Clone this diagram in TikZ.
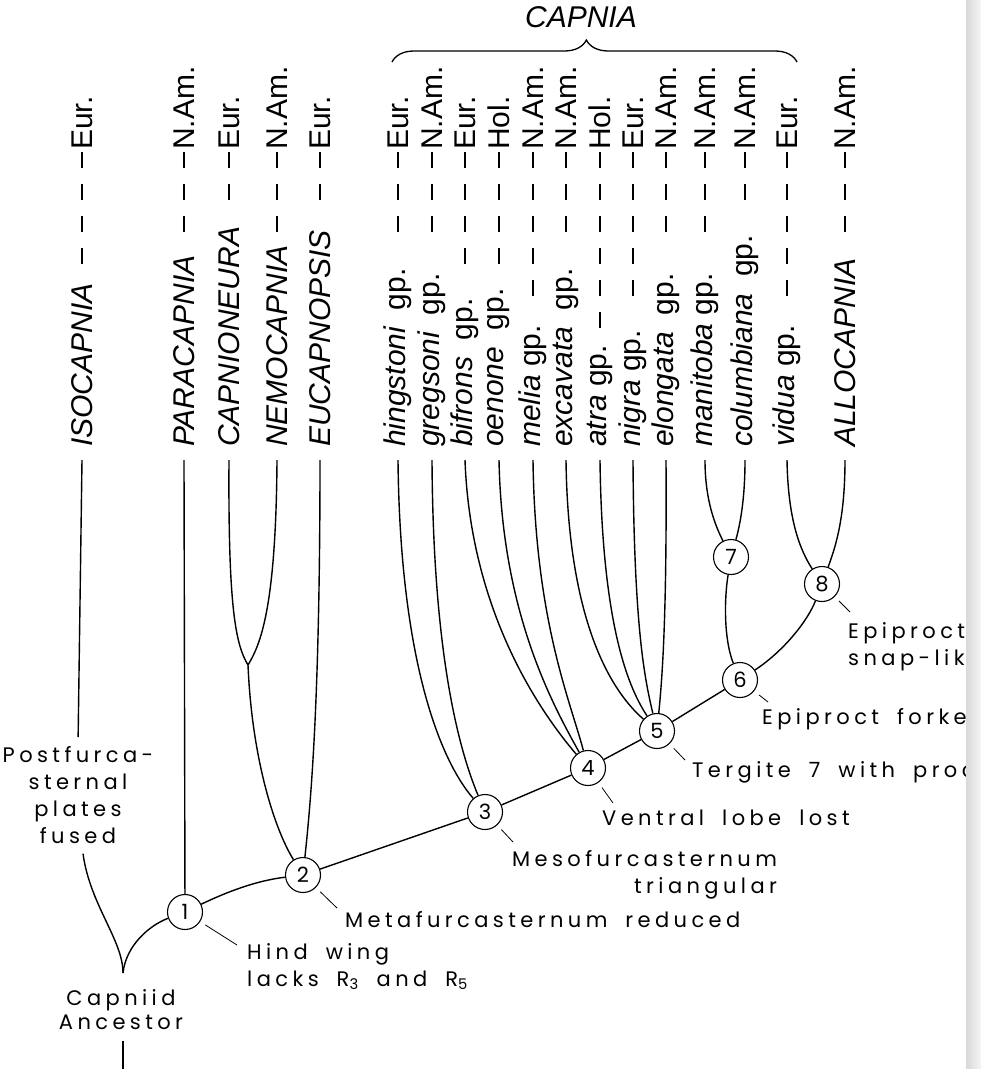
\documentclass[tikz,border=0pt]{standalone}
\usepackage{fontspec}
\setmainfont{Liberation Sans}
\newfontfamily\notefont[LetterSpace=21,WordSpace=1.8]{Poppins}
\usetikzlibrary{calc,decorations.pathreplacing}

\begin{document}
\begin{tikzpicture}[x=1pt,y=-1pt,
  taxon/.style={rotate=90,anchor=west,inner sep=0pt,font=\fontsize{30}{30}\selectfont\itshape},
  area/.style={rotate=90,anchor=west,inner sep=0pt,font=\fontsize{30}{30}\selectfont},
  gap/.style={line width=1.3pt,dash pattern=on 16pt off 16pt},
  br/.style={line width=1.4pt},
  knot/.style={draw,circle,line width=1.1pt,minimum size=35pt,inner sep=0pt,fill=white,font=\fontsize{21}{21}\notefont},
  note/.style={inner sep=0pt,align=left,font={\fontsize{21}{27}\notefont}},
  lead/.style={line width=.8pt,shorten <=6pt}]
\useasboundingbox (0,0) rectangle (981,1069);

% taxa, areas and the dashed ties between them (whole dashes only)
\foreach \x/\id/\nm/\ar in {82/iso/ISOCAPNIA/Eur., 184/para/PARACAPNIA/N.Am., 229/capn/CAPNIONEURA/Eur.,
  277/nemo/NEMOCAPNIA/N.Am., 320/euca/EUCAPNOPSIS/Eur.,
  398/hing/{hingstoni\upshape\ \ gp.}/Eur., 432/greg/{gregsoni\upshape\ \ gp.}/N.Am.,
  465/bifr/{bifrons\upshape\ \ gp.}/Eur., 499/oeno/{oenone\upshape\ \ gp.}/Hol.,
  533/meli/{melia\upshape\ gp.}/N.Am., 566/exca/{excavata\upshape\ \ gp.}/N.Am.,
  600/atra/{atra\upshape\ gp.}/Hol., 633/nigr/{nigra\upshape\ gp.}/Eur.,
  666/elon/{elongata\upshape\ \ gp.}/N.Am., 705/mani/{manitoba\upshape\ gp.}/N.Am.,
  745/colu/{columbiana\upshape\ \ gp.}/N.Am., 787/vidu/{vidua\upshape\ gp.}/Eur., 845/allo/ALLOCAPNIA/N.Am.}{
  \coordinate (\id) at (\x,460);
  \node[taxon] (\id-n) at (\x,447) {\nm};
  \node[area] (\id-a) at (\x,150) {\ar};
  \draw[gap] let \p1=(\id-a.west), \p2=(\id-n.east), \n1={int((abs(\y1-\y2)-28)/32)*32+16} in
    ([yshift=-2pt]\p1) -- ++(0pt,-\n1);
}

\coordinate (bl) at (392,62);
\coordinate (br) at (797,62);
\draw[line width=1.3pt,decorate,decoration={brace,amplitude=22pt,aspect=.48}] (bl) -- (br);
\node[inner sep=0pt,font=\fontsize{30}{30}\selectfont\itshape] (capnia) at (581,17) {CAPNIA};

% tree
\coordinate (root) at (123,973);
\coordinate (jn) at (248,665);
\node[knot] (n1) at (185,912) {1};
\node[knot] (n2) at (303,875) {2};
\node[knot] (n3) at (485,812) {3};
\node[knot] (n4) at (588,768) {4};
\node[knot] (n5) at (657,731) {5};
\node[knot] (n6) at (740,680) {6};
\node[knot] (n7) at (731,557) {7};
\node[knot] (n8) at (822,584) {8};

\node[note,align=center,anchor=north] (pf) at (78,746) {Postfurca-\\sternal\\plates\\fused};
\node[note,align=center,anchor=north,font={\fontsize{21}{24}\notefont}] (anc) at (121,989) {Capniid\\Ancestor};
\coordinate (foot) at (123,1069);

\draw[br,shorten >=9pt] (iso) -- (pf.north);
\draw[br] ([xshift=5pt,yshift=-10pt]pf.south) .. controls (90,905) and (123,940) .. (root);
\draw[br] (root) .. controls (126,945) and (150,925) .. (n1);
\draw[br,shorten <=11pt] ([xshift=2pt]anc.south) -- (foot);
\draw[br] (para) -- (n1);
\draw[br] (n1) .. controls (235,888) and (262,880) .. (n2);
\draw[br] (n2) -- (n3) -- (n4) -- (n5) -- (n6);
\draw[br] (n6) .. controls (785,650) and (808,620) .. (n8);
\draw[br] (n7) .. controls (724,600) and (724,640) .. (n6);
\draw[br] (capn) .. controls (228,610) and (236,645) .. (jn);
\draw[br] (nemo) .. controls (276,610) and (260,645) .. (jn);
\draw[br] (jn) .. controls (252,760) and (275,830) .. (n2);
\draw[br] (euca) .. controls (320,700) and (311,800) .. (n2);
\draw[br] (hing) .. controls (400,660) and (440,760) .. (n3);
\draw[br] (greg) .. controls (433,640) and (455,740) .. (n3);
\draw[br] (bifr) .. controls (470,600) and (530,700) .. (n4);
\draw[br] (oeno) .. controls (502,610) and (550,700) .. (n4);
\draw[br] (meli) .. controls (535,620) and (570,700) .. (n4);
\draw[br] (exca) .. controls (568,620) and (610,690) .. (n5);
\draw[br] (atra) .. controls (602,630) and (630,690) .. (n5);
\draw[br] (nigr) .. controls (634,630) and (645,680) .. (n5);
\draw[br] (elon) .. controls (667,620) and (662,680) .. (n5);
\draw[br] (mani) .. controls (705,500) and (715,525) .. (n7);
\draw[br] (colu) .. controls (745,500) and (740,525) .. (n7);
\draw[br] (vidu) .. controls (788,520) and (800,550) .. (n8);
\draw[br] (allo) .. controls (845,520) and (835,548) .. (n8);

% characters
\node[note,anchor=north west] (hw) at (247,943) {Hind wing\\lacks R\textsubscript{3} and R\textsubscript{5}};
\node[note,anchor=north west] (mr) at (345,911) {Metafurcasternum reduced};
\node[note,anchor=north west,align=right] (mt) at (512,850) {Mesofurcasternum\\triangular};
\node[note,anchor=north west] (vl) at (602,810) {Ventral lobe lost};
\node[note,anchor=north west] (tg) at (692,761) {Tergite 7 with process};
\node[note,anchor=north west] (ef) at (762,708) {Epiproct forked};
\node[note,anchor=north west] (es) at (848,622) {Epiproct\\snap-like};
\coordinate (hw-l) at (237,945);
\coordinate (mr-l) at (337,908);
\coordinate (mt-l) at (513,842);
\coordinate (vl-l) at (613,803);
\coordinate (tg-l) at (685,760);
\coordinate (ef-l) at (768,702);
\coordinate (es-l) at (850,612);
\draw[lead] (n1) -- (hw-l);
\draw[lead] (n2) -- (mr-l);
\draw[lead] (n3) -- (mt-l);
\draw[lead] (n4) -- (vl-l);
\draw[lead] (n5) -- (tg-l);
\draw[lead] (n6) -- (ef-l);
\draw[lead] (n8) -- (es-l);

% page edge of the scan
\shade[left color=gray!30,right color=gray!8] (966,0) rectangle (981,1069);
\end{tikzpicture}
\end{document}
